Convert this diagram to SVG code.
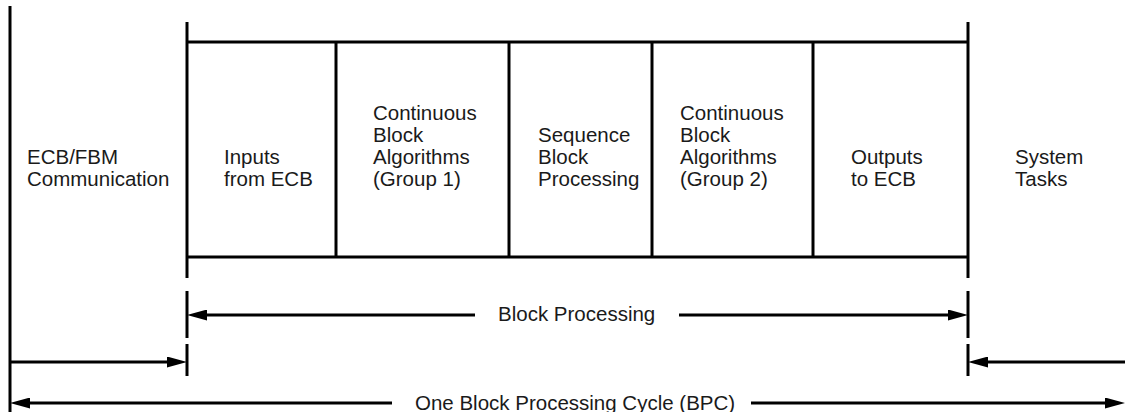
<svg xmlns="http://www.w3.org/2000/svg" width="1125" height="412" viewBox="0 0 1125 412">
<style>
.ln{stroke:#000;stroke-width:3;fill:none}
.t{font-family:"Liberation Sans",Arial,Helvetica,sans-serif;font-size:20.5px;fill:#1a1a1a}
</style>
<defs>
<marker id="ah" markerUnits="userSpaceOnUse" markerWidth="20" markerHeight="11" refX="10" refY="5.5" orient="auto" viewBox="0 0 20 11">
<path d="M0,0 L20,5.5 L0,11 z" fill="#000"/>
</marker>
</defs>
<rect width="1125" height="412" fill="#fff"/>
<g id="frame">
<line class="ln" x1="10" y1="6" x2="10" y2="412"/>
<line class="ln" x1="187" y1="22" x2="187" y2="278"/>
<line class="ln" x1="187" y1="291" x2="187" y2="338"/>
<line class="ln" x1="187" y1="344" x2="187" y2="376"/>
<line class="ln" x1="968" y1="22" x2="968" y2="278"/>
<line class="ln" x1="968" y1="291" x2="968" y2="338"/>
<line class="ln" x1="968" y1="344" x2="968" y2="376"/>
<line class="ln" x1="187" y1="42" x2="968" y2="42"/>
<line class="ln" x1="187" y1="257" x2="968" y2="257"/>
<line class="ln" x1="336" y1="42" x2="336" y2="257"/>
<line class="ln" x1="509" y1="42" x2="509" y2="257"/>
<line class="ln" x1="652" y1="42" x2="652" y2="257"/>
<line class="ln" x1="813" y1="42" x2="813" y2="257"/>
</g>
<g id="ecb-fbm">
<text class="t" x="27" y="164">ECB/FBM</text>
<text class="t" x="27" y="186">Communication</text>
</g>
<g id="inputs">
<text class="t" x="224" y="164">Inputs</text>
<text class="t" x="224" y="186">from ECB</text>
</g>
<g id="cont1">
<text class="t" x="373" y="120">Continuous</text>
<text class="t" x="373" y="142">Block</text>
<text class="t" x="373" y="164">Algorithms</text>
<text class="t" x="373" y="186">(Group 1)</text>
</g>
<g id="sequence">
<text class="t" x="538" y="142">Sequence</text>
<text class="t" x="538" y="164">Block</text>
<text class="t" x="538" y="186">Processing</text>
</g>
<g id="cont2">
<text class="t" x="680" y="120">Continuous</text>
<text class="t" x="680" y="142">Block</text>
<text class="t" x="680" y="164">Algorithms</text>
<text class="t" x="680" y="186">(Group 2)</text>
</g>
<g id="outputs">
<text class="t" x="851" y="164">Outputs</text>
<text class="t" x="851" y="186">to ECB</text>
</g>
<g id="system">
<text class="t" x="1015" y="164">System</text>
<text class="t" x="1015" y="186">Tasks</text>
</g>
<g id="connectors">
<line class="ln" x1="475" y1="315" x2="197" y2="315" marker-end="url(#ah)"/>
<line class="ln" x1="679" y1="315" x2="958" y2="315" marker-end="url(#ah)"/>
<line class="ln" x1="10" y1="362" x2="177" y2="362" marker-end="url(#ah)"/>
<line class="ln" x1="1125" y1="362" x2="978" y2="362" marker-end="url(#ah)"/>
<line class="ln" x1="392" y1="403" x2="20" y2="403" marker-end="url(#ah)"/>
<line class="ln" x1="751" y1="403" x2="1115" y2="403" marker-end="url(#ah)"/>
</g>
<g id="labels">
<text class="t" x="498" y="321">Block Processing</text>
<text class="t" x="415" y="410">One Block Processing Cycle (BPC)</text>
</g>
</svg>
